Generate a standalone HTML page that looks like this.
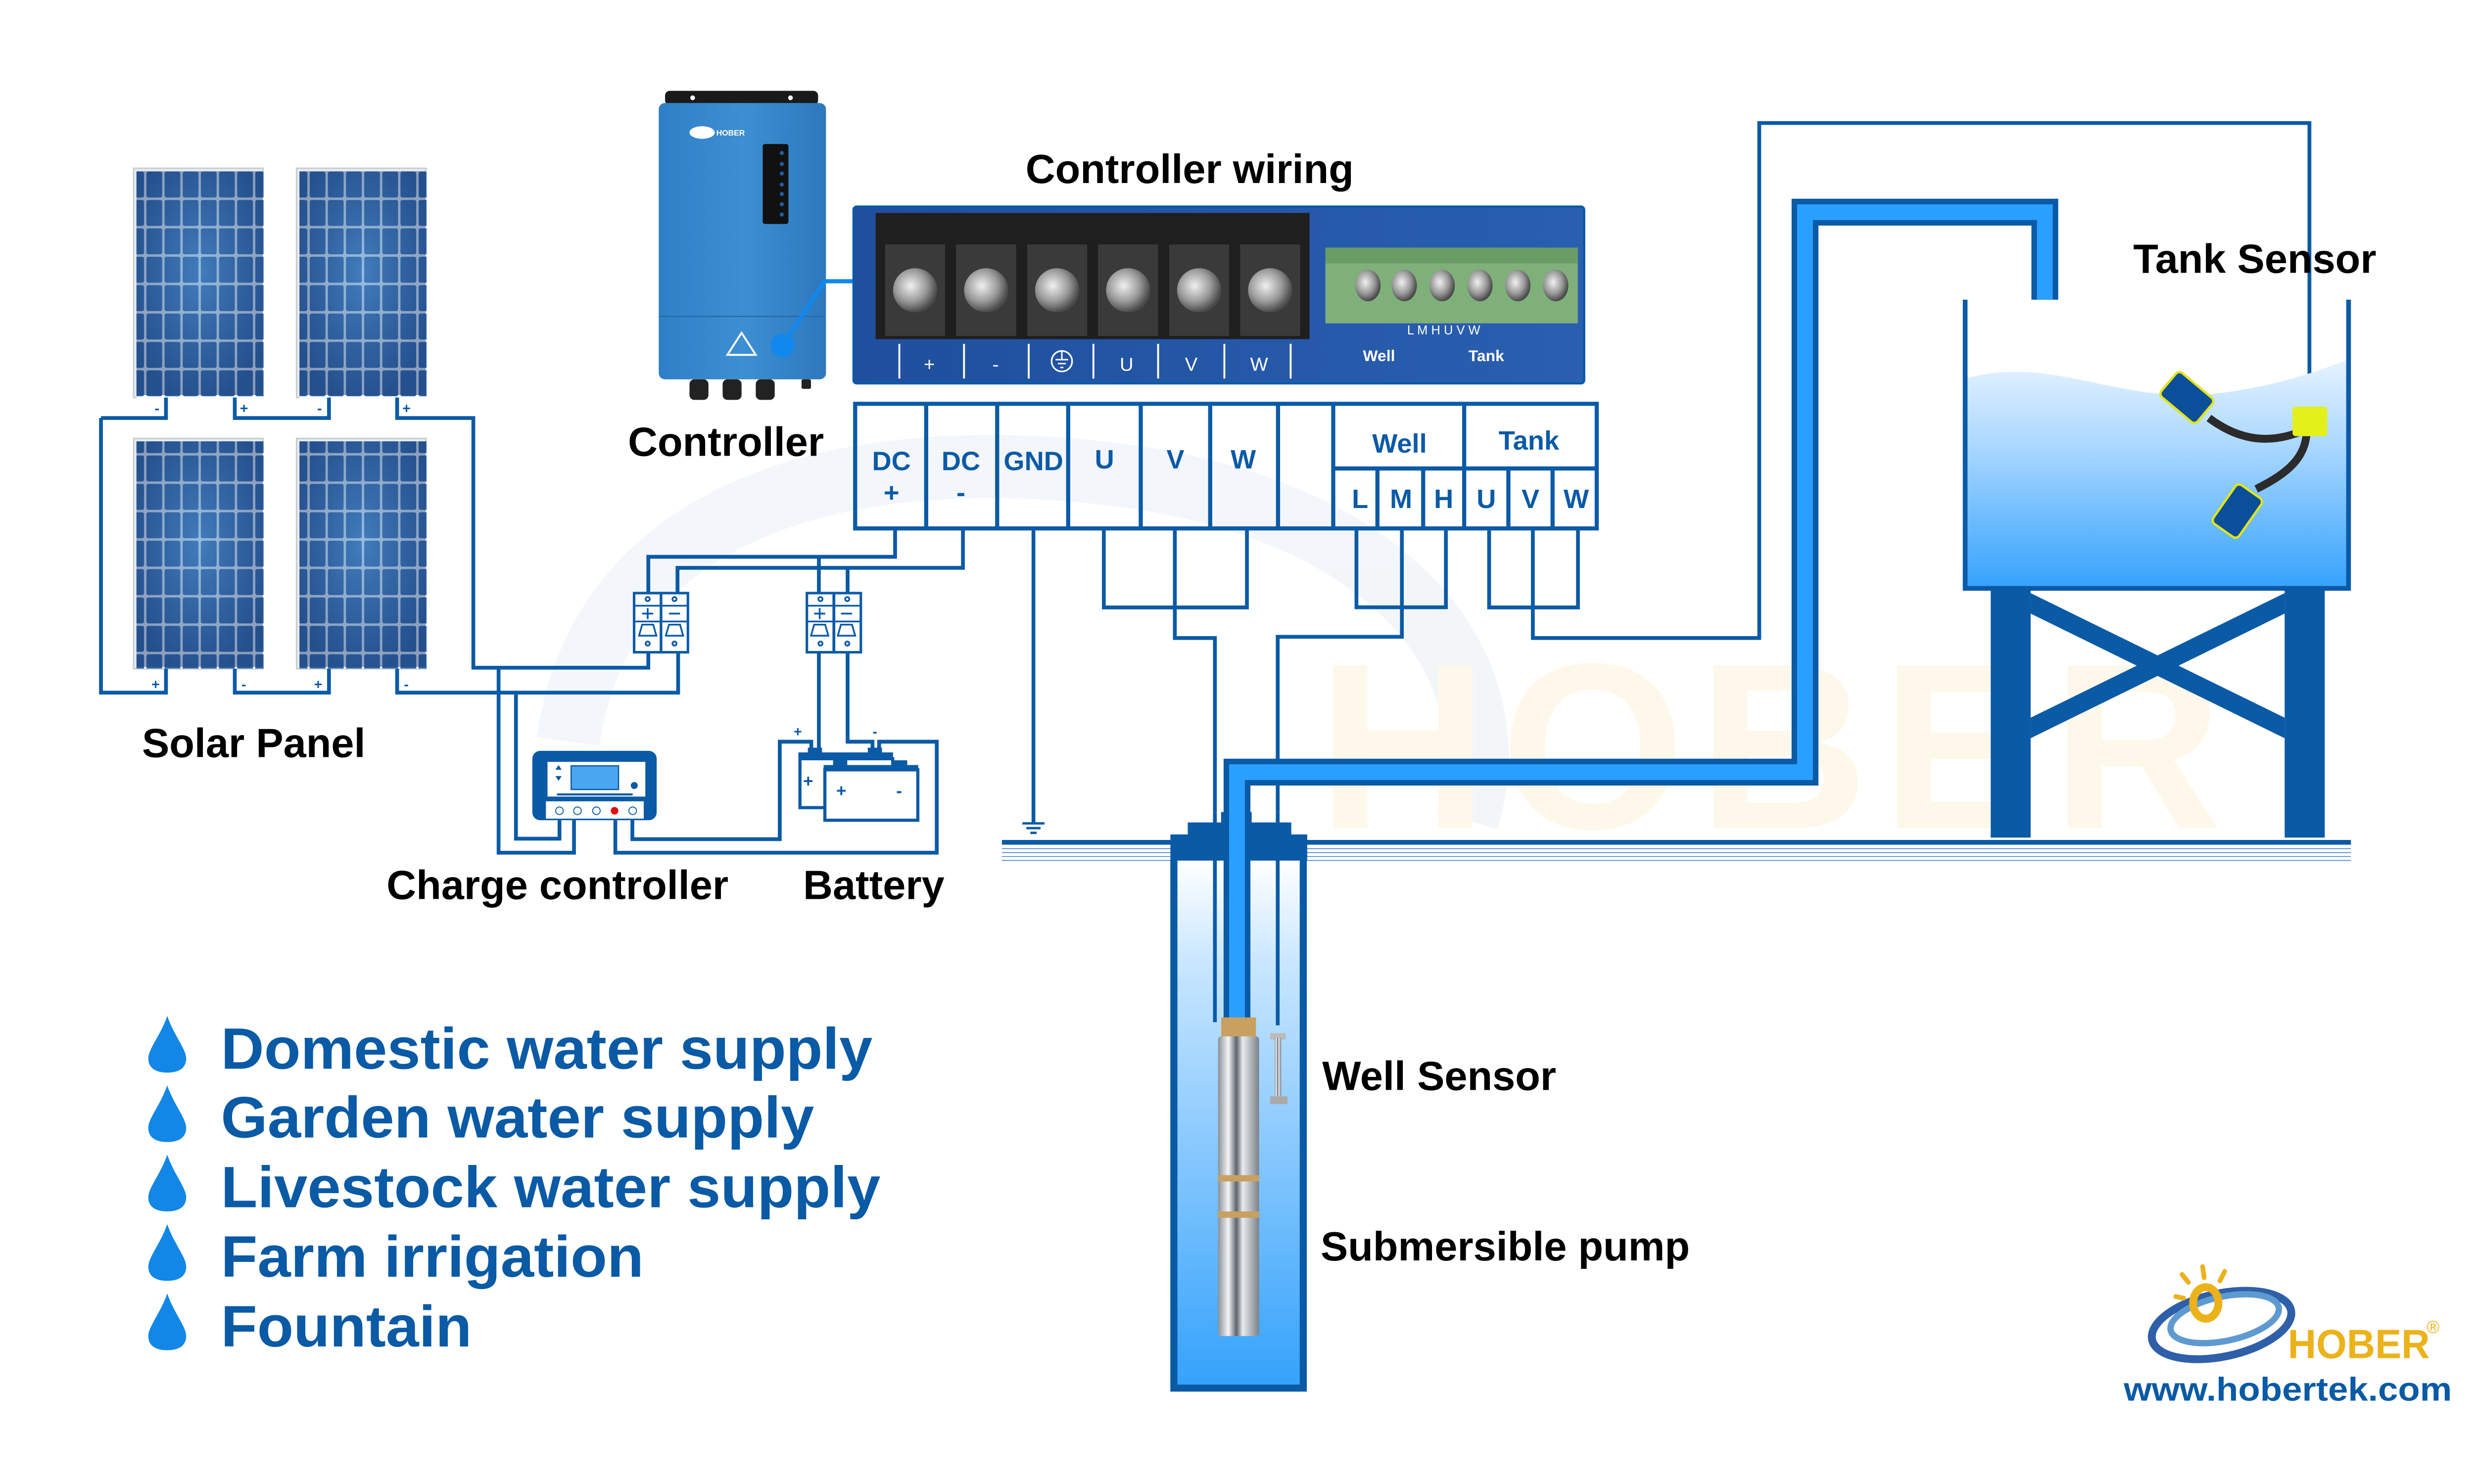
<!DOCTYPE html>
<html><head><meta charset="utf-8"><style>html,body{margin:0;padding:0;background:#fff;overflow:hidden}svg{display:block;position:absolute;left:0;top:0;width:100vw;height:58.59375vw}</style></head>
<body>
<svg xmlns="http://www.w3.org/2000/svg" viewBox="0 0 1568 918.75" preserveAspectRatio="none" font-family="Liberation Sans, sans-serif">
<defs>
<pattern id="cells" x="0" y="0" width="11.5" height="18" patternUnits="userSpaceOnUse">
<rect x="0" y="0" width="11.5" height="18" fill="#fff"/>
<rect x="0.8" y="0.8" width="10" height="16.4" rx="1.2" fill="#2f62a3"/>
</pattern>
<radialGradient id="glow" cx="0.5" cy="0.45" r="0.6"><stop offset="0" stop-color="#4f8fcc" stop-opacity="0.6"/><stop offset="1" stop-color="#1a3d78" stop-opacity="0.5"/></radialGradient>
<linearGradient id="water" x1="0" y1="0" x2="0" y2="1"><stop offset="0" stop-color="#e6f3ff"/><stop offset="0.4" stop-color="#a6d6ff"/><stop offset="1" stop-color="#34a2fb"/></linearGradient>
<linearGradient id="wellw" x1="0" y1="0" x2="0" y2="1"><stop offset="0" stop-color="#ffffff"/><stop offset="0.2" stop-color="#c8e6ff"/><stop offset="1" stop-color="#34a2fb"/></linearGradient>
<linearGradient id="steel" x1="0" y1="0" x2="1" y2="0"><stop offset="0" stop-color="#8a8f96"/><stop offset="0.25" stop-color="#f4f6f8"/><stop offset="0.45" stop-color="#5d636b"/><stop offset="0.6" stop-color="#e9ecef"/><stop offset="1" stop-color="#7b8088"/></linearGradient>
<linearGradient id="ctrl" x1="0" y1="0" x2="1" y2="0"><stop offset="0" stop-color="#2f7fc6"/><stop offset="0.5" stop-color="#3d8fd3"/><stop offset="1" stop-color="#2d78bd"/></linearGradient>
<linearGradient id="board" x1="0" y1="0" x2="1" y2="0"><stop offset="0" stop-color="#1f4f9e"/><stop offset="1" stop-color="#2a5fb0"/></linearGradient>
<radialGradient id="screw" cx="0.4" cy="0.4" r="0.6"><stop offset="0" stop-color="#f0f0f0"/><stop offset="0.6" stop-color="#9a9a9a"/><stop offset="1" stop-color="#4a4a4a"/></radialGradient>
</defs>
<rect width="1568" height="918.75" fill="#fff"/>

<g opacity="0.5">
<path d="M360,470 C380,330 520,280 700,300 C880,320 960,420 930,520" fill="none" stroke="#e8eef5" stroke-width="40"/>
<text x="835" y="525" font-size="150" font-weight="bold" fill="#fdf3d6" letter-spacing="8">HOBER</text>
</g>

<g>
<rect x="84.7" y="106.7" width="82" height="145.3" fill="#e8ecf0" stroke="#c9ced4"/>
<rect x="86.5" y="108.5" width="80.5" height="144" fill="url(#cells)"/>
<rect x="188" y="106.7" width="82" height="145.3" fill="#e8ecf0" stroke="#c9ced4"/>
<rect x="189.8" y="108.5" width="80.5" height="144" fill="url(#cells)"/>
<rect x="84.7" y="278" width="82" height="146" fill="#e8ecf0" stroke="#c9ced4"/>
<rect x="86.5" y="279.8" width="80.5" height="144" fill="url(#cells)"/>
<rect x="188" y="278" width="82" height="146" fill="#e8ecf0" stroke="#c9ced4"/>
<rect x="189.8" y="279.8" width="80.5" height="144" fill="url(#cells)"/>
<rect x="86.5" y="108.5" width="80" height="142" fill="url(#glow)"/>
<rect x="189.8" y="108.5" width="80" height="142" fill="url(#glow)"/>
<rect x="86.5" y="279.8" width="80" height="143" fill="url(#glow)"/>
<rect x="189.8" y="279.8" width="80" height="143" fill="url(#glow)"/>
</g>

<g fill="none" stroke="#0b5aa6" stroke-width="2.4">
<path d="M64,265 H105.2 V252"/>
<path d="M148.8,252 V265 H208.5 V252"/>
<path d="M251.7,252 V265 H300 V423.3 H410.9 V413"/>
<path d="M64,265 V439.1 H105.2 V424"/>
<path d="M148.8,424 V439.1 H208.5 V424"/>
<path d="M251.7,424 V439.1 H429.8 V413"/>
<path d="M410.9,376 V353 H567.3 V335"/>
<path d="M429.4,376 V360 H610.3 V335"/>
<path d="M519,376 V353"/>
<path d="M537.2,376 V360"/>
<path d="M316,423.3 V540.6 H363.8 V520"/>
<path d="M327,439.1 V531.7 H354.6 V520"/>
<path d="M390,520 V540.6 H593.7 V470.2 H557.2 V476"/>
<path d="M400.8,520 V532 H494.2 V470.2 H514.2 V476"/>
<path d="M519,413 V476"/>
<path d="M537.2,413 V470.2 H553 V476"/>
<path d="M655,335 V522"/>
<path d="M699.6,335 V385.1 H790.3 V335"/>
<path d="M744.6,335 V404.5 H770 V515"/>
<path d="M859.7,335 V385 H916.4 V335"/>
<path d="M888.5,335 V403.7 H809.8 V515"/>
<path d="M943.8,335 V385.1 H1000.1 V335"/>
<path d="M971.5,335 V404.5 H1115 V78 H1463.7 V258"/>
</g>
<g fill="#0b5aa6" font-size="9" font-weight="bold">
<text x="98" y="262">-</text><text x="152" y="262">+</text><text x="201" y="262">-</text><text x="255" y="262">+</text>
<text x="96" y="437">+</text><text x="153" y="437">-</text><text x="199" y="437">+</text><text x="256" y="437">-</text>
</g>

<g stroke="#0b5aa6" stroke-width="1.5"><line x1="648" y1="522" x2="662" y2="522"/><line x1="650.5" y1="525" x2="659.5" y2="525"/><line x1="653" y1="528" x2="657" y2="528"/></g>

<g stroke="#0b5aa6" stroke-width="1.6" fill="#fff">
<rect x="401.9" y="376" width="17" height="37.5"/><rect x="419" y="376" width="17" height="37.5"/>
<rect x="511.4" y="376" width="17" height="37.5"/><rect x="528.6" y="376" width="17" height="37.5"/>
</g>
<g fill="none" stroke="#0b5aa6" stroke-width="1.1">
<path d="M402,384 H436 M402,394 H436 M511,384 H546 M511,394 H546"/>
<path d="M405,403 L407,396 H414 L416,403 Z M422,403 L424,396 H431 L433,403 Z M514,403 L516,396 H523 L525,403 Z M531,403 L533,396 H540 L542,403 Z"/>
<path d="M407,389 H414 M410.5,385.5 V392.5 M424,389 H431 M516,389 H523 M519.5,385.5 V392.5 M533,389 H540"/>
<circle cx="410.5" cy="379.8" r="1.3"/><circle cx="427.5" cy="379.8" r="1.3"/><circle cx="410.5" cy="408" r="1.3"/><circle cx="427.5" cy="408" r="1.3"/>
<circle cx="520" cy="379.8" r="1.3"/><circle cx="537" cy="379.8" r="1.3"/><circle cx="520" cy="408" r="1.3"/><circle cx="537" cy="408" r="1.3"/>
</g>

<g>
<rect x="337.4" y="476" width="78.8" height="44" rx="5" fill="#0b5aa6"/>
<rect x="347" y="483" width="62" height="22" fill="#fff"/>
<rect x="362" y="485.5" width="30" height="15" fill="#4aa6f0" stroke="#0b5aa6" stroke-width="0.8"/>
<path d="M352,488 l2,-3 l2,3 Z M352,492 l2,3 l2,-3 Z" fill="#0b5aa6"/>
<circle cx="402" cy="498" r="2.2" fill="#0b5aa6"/>
<rect x="353" y="503" width="48" height="1.3" fill="#0b5aa6"/>
<rect x="346" y="508" width="62" height="11" fill="#fff"/>
<g fill="#fff" stroke="#0b5aa6" stroke-width="0.6"><circle cx="354.6" cy="514" r="2.4"/><circle cx="366" cy="514" r="2.4"/><circle cx="378" cy="514" r="2.4"/><circle cx="401" cy="514" r="2.4"/></g>
<circle cx="389.5" cy="514" r="2.4" fill="#e01010"/>
</g>

<g stroke="#0b5aa6" stroke-width="2" fill="#fff">
<rect x="507" y="481" width="58.8" height="31"/>
<rect x="522.8" y="488" width="58.9" height="32"/>
</g>
<g fill="#0b5aa6"><rect x="506" y="477" width="60" height="5"/><rect x="512" y="474" width="9" height="4"/><rect x="550" y="474" width="9" height="4"/><rect x="522" y="485" width="60" height="4"/><rect x="528" y="482" width="9" height="4"/><rect x="566" y="482" width="9" height="4"/></g>
<g fill="#0b5aa6" font-size="11" font-weight="bold"><text x="509" y="499">+</text><text x="530" y="505">+</text><text x="568" y="505">-</text><text x="503" y="467" font-size="9">+</text><text x="553" y="467" font-size="9">-</text></g>

<g>
<rect x="421.5" y="57.6" width="97" height="9" rx="3" fill="#1a1a1a"/>
<circle cx="439" cy="62" r="1.5" fill="#fff"/><circle cx="501" cy="62" r="1.5" fill="#fff"/>
<rect x="417.5" y="65.3" width="106" height="175.2" rx="4" fill="url(#ctrl)"/>
<line x1="418" y1="200.6" x2="523" y2="200.6" stroke="#2a6aa8" stroke-width="0.8"/>
<rect x="483.4" y="91.3" width="16.3" height="50.7" rx="1.5" fill="#111"/>
<g fill="#1e5fa8"><circle cx="495.5" cy="97" r="1.3"/><circle cx="495.5" cy="104" r="1.3"/><circle cx="495.5" cy="110" r="1.3"/><circle cx="495.5" cy="117" r="1.3"/><circle cx="495.5" cy="123" r="1.3"/><circle cx="495.5" cy="129.5" r="1.3"/><circle cx="495.5" cy="136" r="1.3"/></g>
<ellipse cx="445" cy="84" rx="8" ry="4" fill="#fff"/><text x="454" y="86" font-size="5" font-weight="bold" fill="#fff">HOBER</text>
<path d="M461,225 L470,211 L479,225 Z" fill="none" stroke="#fff" stroke-width="1.2"/>
<g fill="#222"><rect x="437" y="240.5" width="12" height="13" rx="3"/><rect x="458" y="240.5" width="12" height="13" rx="3"/><rect x="479" y="240.5" width="12" height="13" rx="3"/><rect x="508" y="240.5" width="6" height="6" rx="1"/></g>
<path d="M496,219 L522.7,178.3 H560" fill="none" stroke="#1188ee" stroke-width="2.6"/>
<circle cx="496" cy="219" r="7.5" fill="#1188ee"/>
</g>

<g>
<rect x="541" y="131" width="463" height="112" rx="2" fill="url(#board)" stroke="#0b5aa6" stroke-width="1.5"/>
<rect x="555" y="135" width="275" height="80" fill="#1f1f1f"/>
<g fill="#3a3a3a"><rect x="561" y="155" width="38" height="58"/><rect x="606" y="155" width="38" height="58"/><rect x="651" y="155" width="38" height="58"/><rect x="696" y="155" width="38" height="58"/><rect x="741" y="155" width="38" height="58"/><rect x="786" y="155" width="38" height="58"/></g>
<g fill="url(#screw)"><circle cx="580" cy="184" r="14"/><circle cx="625" cy="184" r="14"/><circle cx="670" cy="184" r="14"/><circle cx="715" cy="184" r="14"/><circle cx="760" cy="184" r="14"/><circle cx="805" cy="184" r="14"/></g>
<rect x="840" y="157" width="160" height="48" fill="#7fb07a"/>
<rect x="840" y="157" width="160" height="10" fill="#6a9c66"/>
<g fill="url(#screw)"><ellipse cx="867" cy="181" rx="8" ry="10"/><ellipse cx="890" cy="181" rx="8" ry="10"/><ellipse cx="914" cy="181" rx="8" ry="10"/><ellipse cx="938" cy="181" rx="8" ry="10"/><ellipse cx="962" cy="181" rx="8" ry="10"/><ellipse cx="986" cy="181" rx="8" ry="10"/></g>
<g stroke="#fff" stroke-width="1.2"><line x1="570" y1="218" x2="570" y2="240"/><line x1="611" y1="218" x2="611" y2="240"/><line x1="652" y1="218" x2="652" y2="240"/><line x1="693" y1="218" x2="693" y2="240"/><line x1="734" y1="218" x2="734" y2="240"/><line x1="776" y1="218" x2="776" y2="240"/><line x1="818" y1="218" x2="818" y2="240"/></g>
<g fill="#fff" font-size="12" text-anchor="middle"><text x="589" y="235">+</text><text x="631" y="235">-</text><text x="714" y="235">U</text><text x="755" y="235">V</text><text x="798" y="235">W</text>
<text x="874" y="229" font-size="10" font-weight="bold">Well</text><text x="942" y="229" font-size="10" font-weight="bold">Tank</text>
<text x="915" y="212" font-size="8">L   M   H   U   V   W</text></g>
<circle cx="673" cy="229" r="6.5" fill="none" stroke="#fff" stroke-width="1"/><path d="M673,223 V228 M669,228 H677 M670.5,230.5 H675.5 M672,233 H674" stroke="#fff" stroke-width="0.9"/>
</g>

<g fill="none" stroke="#0b5aa6" stroke-width="2.6">
<rect x="542" y="256" width="470" height="79"/>
<path d="M587,256 V335 M632,256 V335 M677,256 V335 M723,256 V335 M767,256 V335 M810,256 V335 M845,256 V335 M928,256 V297 M845,297 H1012 M873,297 V335 M902,297 V335 M928,297 V335 M956,297 V335 M984,297 V335"/>
</g>
<g fill="#0b5aa6" font-size="17" font-weight="bold" text-anchor="middle" font-family="Liberation Sans Narrow, Liberation Sans, sans-serif">
<text x="565" y="298">DC</text><text x="565" y="318">+</text><text x="609" y="298">DC</text><text x="609" y="318">-</text>
<text x="655" y="298">GND</text><text x="700" y="297">U</text><text x="745" y="297">V</text><text x="788" y="297">W</text>
<text x="887" y="287">Well</text><text x="969" y="285">Tank</text>
<text x="862" y="322">L</text><text x="888" y="322">M</text><text x="915" y="322">H</text><text x="942" y="322">U</text><text x="970" y="322">V</text><text x="999" y="322">W</text>
</g>

<rect x="635" y="532.5" width="855" height="3" fill="#0b5aa6"/>
<g stroke="#3b7fc4" stroke-width="0.5"><path d="M635,538 H1490 M635,540.5 H1490 M635,543 H1490 M635,545.5 H1490"/></g>

<rect x="745" y="545" width="80" height="334" fill="url(#wellw)"/>
<path d="M744,545 V880 H826 V545" fill="none" stroke="#0b5aa6" stroke-width="4.5"/>
<path d="M741.8,529 H752.8 V521.4 H773.9 V514.8 H793.3 V521.4 H818.4 V529 H828.5 V545.6 H741.8 Z" fill="#0b5aa6"/>

<path d="M784,650 V489.5 H1144 V134.5 H1296 V190" fill="none" stroke="#0b5aa6" stroke-width="17"/>
<path d="M784,650 V489.5 H1144 V134.5 H1296 V190" fill="none" stroke="#29a0ff" stroke-width="10"/>
<line x1="770" y1="515" x2="770" y2="648" stroke="#0b5aa6" stroke-width="2.4"/>
<line x1="809.8" y1="515" x2="809.8" y2="650" stroke="#0b5aa6" stroke-width="2.4"/>

<rect x="774" y="645" width="22" height="14" fill="#c8a060"/>
<rect x="772" y="657" width="26" height="190" rx="2" fill="url(#steel)"/>
<rect x="772" y="745" width="26" height="4" fill="#c8a060"/>
<rect x="772" y="768" width="26" height="4" fill="#c8a060"/>
<rect x="805" y="655" width="10" height="4" fill="#bbb"/><rect x="808" y="658" width="4" height="38" fill="url(#steel)"/><rect x="805" y="695" width="11" height="5" fill="#aaa"/>

<path d="M1246,240 C1300,225 1340,255 1400,250 C1440,246 1470,235 1488,228 V373 H1246 Z" fill="url(#water)"/>
<path d="M1245.5,190 V373 H1488.5 V190" fill="none" stroke="#0b5aa6" stroke-width="3"/>
<g fill="#0b5aa6">
<rect x="1261.7" y="373" width="25.3" height="158"/><rect x="1448" y="373" width="25.4" height="158"/>
<polygon points="1287,376 1448,455 1448,468 1287,389"/>
<polygon points="1448,376 1287,455 1287,468 1448,389"/>
</g>
<path d="M1400,265 C1420,280 1440,282 1462,272 C1462,290 1450,300 1430,310" fill="none" stroke="#2b2b2b" stroke-width="5"/>
<rect x="1453" y="257.8" width="22" height="18.7" rx="2" fill="#e3f01a"/>
<g transform="translate(1386,252) rotate(40)"><rect x="-15" y="-10" width="30" height="20" rx="3" fill="#0a4f9a" stroke="#e3e31a" stroke-width="1.5"/></g>
<g transform="translate(1418,324) rotate(-55)"><rect x="-15" y="-10" width="30" height="20" rx="3" fill="#0a4f9a" stroke="#e3e31a" stroke-width="1.5"/></g>

<g fill="#000" font-weight="bold" font-size="26">
<text x="650" y="116">Controller wiring</text>
<text x="398" y="289">Controller</text>
<text x="90" y="480">Solar Panel</text>
<text x="245" y="570">Charge controller</text>
<text x="509" y="570">Battery</text>
<text x="1352" y="173">Tank Sensor</text>
<text x="838" y="691">Well Sensor</text>
<text x="837" y="799">Submersible pump</text>
</g>

<g fill="#0a5aa5" font-weight="bold" font-size="37">
<text x="140" y="677.5" textLength="413" lengthAdjust="spacingAndGlyphs">Domestic water supply</text>
<text x="140" y="721.2" textLength="376" lengthAdjust="spacingAndGlyphs">Garden water supply</text>
<text x="140" y="765.3" textLength="418" lengthAdjust="spacingAndGlyphs">Livestock water supply</text>
<text x="140" y="809.4" textLength="268" lengthAdjust="spacingAndGlyphs">Farm irrigation</text>
<text x="140" y="853.6" textLength="159" lengthAdjust="spacingAndGlyphs">Fountain</text>
</g>
<g fill="#1287e6">
<path d="M106,644 C110,656 118,665 118,671 C118,678 112,680 106,680 C100,680 94,678 94,671 C94,665 102,656 106,644 Z"/>
<path d="M106,688 C110,700 118,709 118,715 C118,722 112,724 106,724 C100,724 94,722 94,715 C94,709 102,700 106,688 Z"/>
<path d="M106,732 C110,744 118,753 118,759 C118,766 112,768 106,768 C100,768 94,766 94,759 C94,753 102,744 106,732 Z"/>
<path d="M106,776 C110,788 118,797 118,803 C118,810 112,812 106,812 C100,812 94,810 94,803 C94,797 102,788 106,776 Z"/>
<path d="M106,820 C110,832 118,841 118,847 C118,854 112,856 106,856 C100,856 94,854 94,847 C94,841 102,832 106,820 Z"/>
</g>

<g>
<ellipse cx="1408" cy="840" rx="45" ry="20" fill="none" stroke="#2f5fa8" stroke-width="5" transform="rotate(-12 1408 840)"/>
<ellipse cx="1410" cy="836" rx="35" ry="14" fill="none" stroke="#5e9ad0" stroke-width="4" transform="rotate(-12 1410 836)"/>
<ellipse cx="1398" cy="826" rx="8" ry="10" fill="none" stroke="#ecb21a" stroke-width="5"/>
<g stroke="#ecb21a" stroke-width="3" stroke-linecap="round"><line x1="1396" y1="803" x2="1397" y2="810"/><line x1="1410" y1="806" x2="1407" y2="812"/><line x1="1383" y1="808" x2="1387" y2="813"/><line x1="1379" y1="822" x2="1384" y2="823"/></g>
<text x="1450" y="861" font-size="26" font-weight="bold" fill="#ecb21a" textLength="90" lengthAdjust="spacingAndGlyphs">HOBER</text>
<text x="1538" y="845" font-size="11" fill="#ecb21a">®</text>
<text x="1346" y="888" font-size="21" font-weight="bold" fill="#0a5aa5" textLength="208" lengthAdjust="spacingAndGlyphs">www.hobertek.com</text>
</g>
</svg>
</body></html>
